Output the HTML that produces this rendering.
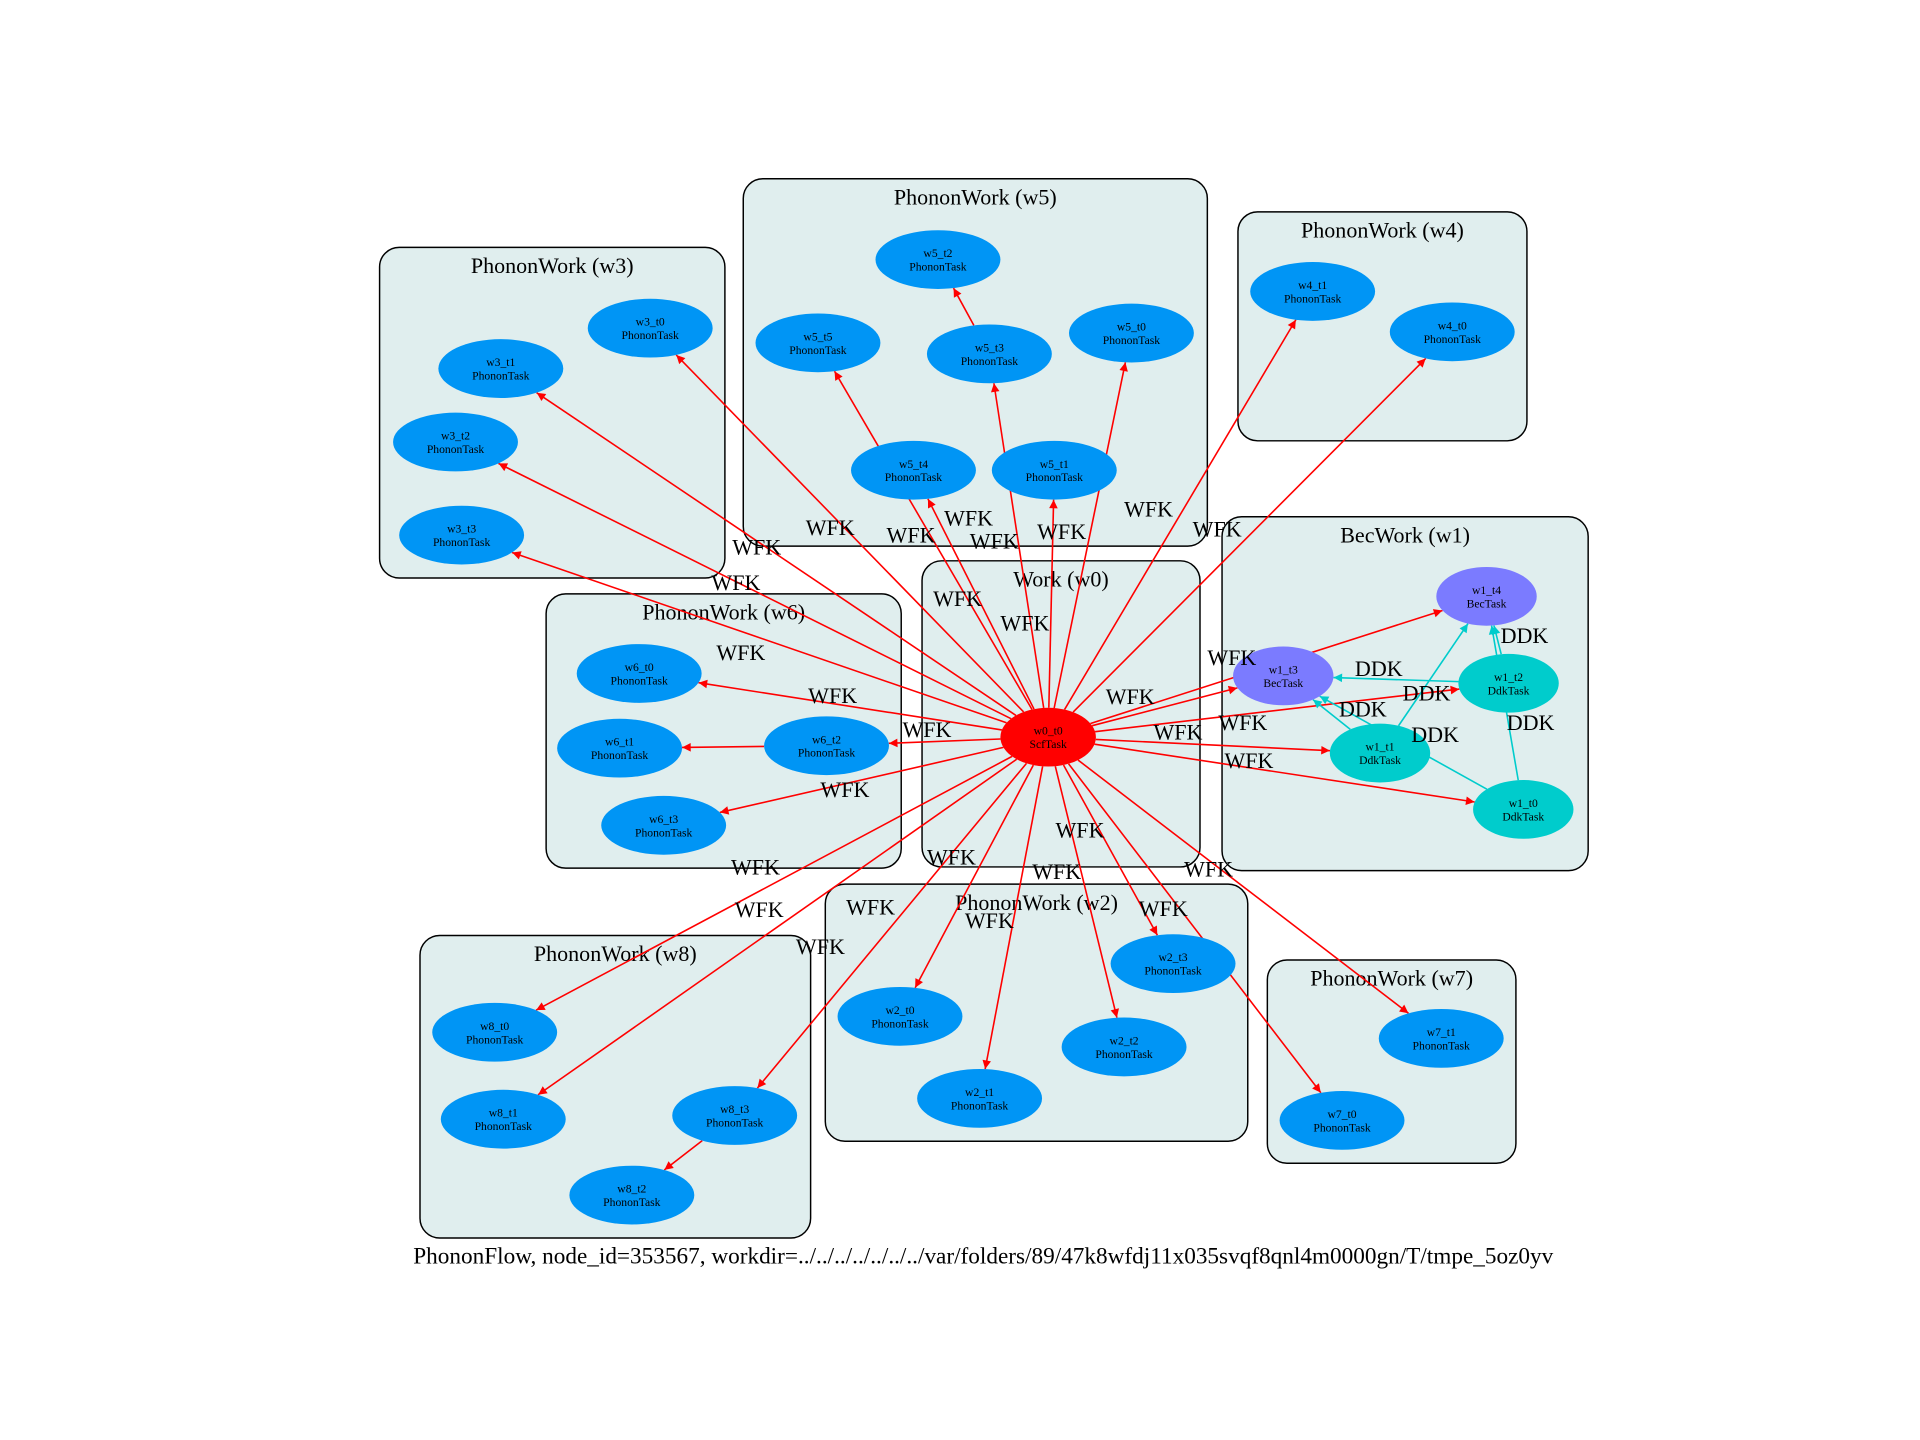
<!DOCTYPE html>
<html><head><meta charset="utf-8"><style>
html,body{margin:0;padding:0;background:#fff;}
svg{display:block;font-family:"Liberation Serif",serif;}
</style></head><body>
<svg id="g" width="1920" height="1440" viewBox="0 0 1568 1176" preserveAspectRatio="none" xmlns="http://www.w3.org/2000/svg">
<defs>
<marker id="ar" viewBox="0 0 10 10" refX="10" refY="5" markerWidth="5" markerHeight="5" orient="auto" markerUnits="userSpaceOnUse" style="overflow:visible"><path d="M0,0L10,5L0,10z" fill="#ff0000" transform="scale(1.4) translate(-3,-1.4)"/></marker>
<marker id="ac" viewBox="0 0 10 10" refX="10" refY="5" markerWidth="5" markerHeight="5" orient="auto" markerUnits="userSpaceOnUse" style="overflow:visible"><path d="M0,0L10,5L0,10z" fill="#00cccc" transform="scale(1.4) translate(-3,-1.4)"/></marker>
</defs>
<g id="clusters"></g><g id="edges"></g><g id="nodes"></g><g id="labels"></g>
<text x="803" y="1032" font-size="19" text-anchor="middle" textLength="931" lengthAdjust="spacingAndGlyphs">PhononFlow, node_id=353567, workdir=../../../../../../../var/folders/89/47k8wfdj11x035svqf8qnl4m0000gn/T/tmpe_5oz0yv</text>
</svg>
<script>
const clusterNames=["PhononWork (w5)","PhononWork (w4)","PhononWork (w3)","BecWork (w1)","Work (w0)","PhononWork (w6)","PhononWork (w2)","PhononWork (w8)","PhononWork (w7)"];
const clusterBoxes=[[607,146,986,446],[1011,173,1247,360],[310,202,592,472],[998,422,1297,711],[753,458,980,708],[446,485,736,709],[674,722,1019,932],[343,764,662,1011],[1035,784,1238,950]];
const nodeIds=["w5_t2","w5_t5","w5_t3","w5_t0","w5_t4","w5_t1","w4_t1","w4_t0","w3_t0","w3_t1","w3_t2","w3_t3","w1_t4","w1_t3","w1_t2","w1_t1","w1_t0","w0_t0","w6_t0","w6_t1","w6_t2","w6_t3","w2_t3","w2_t0","w2_t2","w2_t1","w8_t0","w8_t1","w8_t3","w8_t2","w7_t1","w7_t0"];
const nodeTypes=["PhononTask","PhononTask","PhononTask","PhononTask","PhononTask","PhononTask","PhononTask","PhononTask","PhononTask","PhononTask","PhononTask","PhononTask","BecTask","BecTask","DdkTask","DdkTask","DdkTask","ScfTask","PhononTask","PhononTask","PhononTask","PhononTask","PhononTask","PhononTask","PhononTask","PhononTask","PhononTask","PhononTask","PhononTask","PhononTask","PhononTask","PhononTask"];
const nodeX=[766,668,808,924,746,861,1072,1186,531,409,372,377,1214,1048,1232,1127,1244,856,522,506,675,542,958,735,918,800,404,411,600,516,1177,1096];
const nodeY=[212,280,289,272,384,384,238,271,268,301,361,437,487,552,558,615,661,602,550,611,609,674,787,830,855,897,843,914,911,976,848,915];
const redEdges=[["w5_t3","w5_t2"],["w0_t0","w5_t5"],["w0_t0","w5_t3"],["w0_t0","w5_t0"],["w0_t0","w5_t4"],["w0_t0","w5_t1"],["w0_t0","w4_t1"],["w0_t0","w4_t0"],["w0_t0","w3_t0"],["w0_t0","w3_t1"],["w0_t0","w3_t2"],["w0_t0","w3_t3"],["w0_t0","w1_t4"],["w0_t0","w1_t3"],["w0_t0","w1_t2"],["w0_t0","w1_t1"],["w0_t0","w1_t0"],["w0_t0","w6_t0"],["w0_t0","w6_t2"],["w6_t2","w6_t1"],["w0_t0","w6_t3"],["w0_t0","w2_t3"],["w0_t0","w2_t0"],["w0_t0","w2_t2"],["w0_t0","w2_t1"],["w0_t0","w8_t0"],["w0_t0","w8_t1"],["w0_t0","w8_t3"],["w8_t3","w8_t2"],["w0_t0","w7_t1"],["w0_t0","w7_t0"]];
const cyanEdges=[["w1_t2","w1_t4"],["w1_t2","w1_t3"],["w1_t1","w1_t3"],["w1_t1","w1_t4"],["w1_t0","w1_t4"],["w1_t0","w1_t3"]];
const edgeLabelText=["WFK","WFK","WFK","WFK","WFK","WFK","WFK","WFK","WFK","WFK","WFK","WFK","WFK","WFK","WFK","WFK","WFK","WFK","WFK","WFK","WFK","WFK","WFK","WFK","WFK","WFK","WFK","WFK","WFK","WFK","DDK","DDK","DDK","DDK","DDK","DDK"];
const edgeLabelX=[678,744,791,812,867,938,994,618,601,605,680,782,837,923,757,962,1015,1006,1020,690,882,777,617,863,987,711,808,950,620,670,1245,1126,1165,1113,1172,1250];
const edgeLabelY=[437,443,429,448,440,422,438,453,482,539,574,495,515,575,602,604,596,543,627,651,684,706,714,718,716,747,758,748,749,779,525,552,572,585,606,596];

const NS="http://www.w3.org/2000/svg";
function mk(t,a,p){const e=document.createElementNS(NS,t);for(const k in a)e.setAttribute(k,a[k]);p.appendChild(e);return e;}
const C=document.getElementById('clusters'),E=document.getElementById('edges'),N=document.getElementById('nodes'),L=document.getElementById('labels');
clusterBoxes.forEach((b,i)=>{
  const r=mk('rect',{x:b[0],y:b[1],width:b[2]-b[0],height:b[3]-b[1],rx:16,fill:'#e0eeee',stroke:'#000','stroke-width':1.2},C);
  
  
  const t=mk('text',{x:(b[0]+b[2])/2,y:b[1]+21,'font-size':18,'text-anchor':'middle'},C);
  t.textContent=clusterNames[i];
  
  
});
function idx(id){return nodeIds.indexOf(id);}
function rad(i){return nodeIds[i]==='w0_t0'?[39,24]:(nodeTypes[i]==='PhononTask'?[51,24]:[41,24]);}
function clip(i,dx,dy){const [rx,ry]=rad(i);const t=1/Math.sqrt((dx*dx)/(rx*rx)+(dy*dy)/(ry*ry));return [nodeX[i]+dx*t,nodeY[i]+dy*t];}
function edge(a,b,col,mark){
  const i=idx(a),j=idx(b);const dx=nodeX[j]-nodeX[i],dy=nodeY[j]-nodeY[i];
  const p=clip(i,dx,dy),q=clip(j,-dx,-dy);
  const l=mk('line',{x1:p[0],y1:p[1],x2:q[0],y2:q[1],stroke:col,'stroke-width':1.3,'marker-end':'url(#'+mark+')'},E);
  
  
}
redEdges.forEach(e=>edge(e[0],e[1],'#ff0000','ar'));
cyanEdges.forEach(e=>edge(e[0],e[1],'#00cccc','ac'));
nodeIds.forEach((id,i)=>{
  const [rx,ry]=rad(i);
  const col=nodeTypes[i]==='ScfTask'?'#ff0000':nodeTypes[i]==='BecTask'?'#7b7bff':nodeTypes[i]==='DdkTask'?'#00cccc':'#0095f5';
  const el=mk('ellipse',{cx:nodeX[i],cy:nodeY[i],rx:rx,ry:ry,fill:col},N);
  
  
  const t1=mk('text',{x:nodeX[i],y:nodeY[i]-2,'font-size':9.5,'text-anchor':'middle'},N);t1.textContent=id;
  
  
  const t2=mk('text',{x:nodeX[i],y:nodeY[i]+9,'font-size':9.5,'text-anchor':'middle'},N);t2.textContent=nodeTypes[i];
  
  
});
edgeLabelText.forEach((s,i)=>{
  const t=mk('text',{x:edgeLabelX[i],y:edgeLabelY[i],'font-size':18,'text-anchor':'middle'},L);t.textContent=s;
  
  
});
</script>
</body></html>
